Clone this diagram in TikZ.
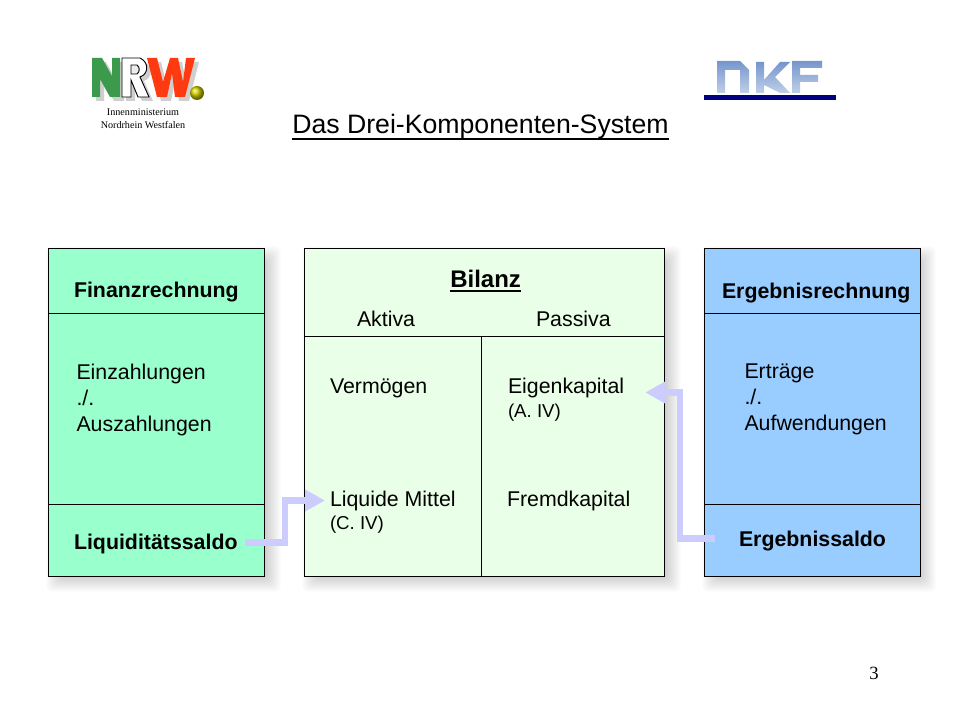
\documentclass[tikz,border=0pt]{standalone}
\usepackage{fontspec}
\setmainfont{Liberation Sans}
\newfontfamily\timesf{Liberation Serif}
\usetikzlibrary{arrows.meta,calc}
\definecolor{boxgreen}{HTML}{99FFCC}
\definecolor{boxpale}{HTML}{EAFFE8}
\definecolor{boxblue}{HTML}{99CCFF}
\definecolor{flowcol}{HTML}{CCCCFF}
\definecolor{nrwgreen}{HTML}{3C9A4C}
\definecolor{nrwred}{HTML}{FF3A10}
\definecolor{nrwgray}{HTML}{CFCFCF}
\definecolor{dkfbar}{HTML}{000080}
\definecolor{dkftop}{HTML}{7596CC}
\definecolor{dkfbot}{HTML}{C0CFE8}
\tikzset{
  panel/.style={draw=black,line width=0.6pt,anchor=north west,inner sep=0,outer sep=0},
  rule/.style={draw=black,line width=0.6pt},
  lab/.style={inner sep=0,outer sep=0,anchor=base west,font=\fontsize{16}{19.5}\selectfont},
  block/.style={inner sep=0,outer sep=0,anchor=north west,align=left,font=\fontsize{16}{19.5}\selectfont},
  head/.style={inner sep=0,outer sep=0,anchor=base west,font=\fontsize{16}{19.5}\selectfont\bfseries},
  small/.style={inner sep=0,outer sep=0,anchor=base west,font=\fontsize{14}{16}\selectfont},
  flow/.style={draw=flowcol,line width=4.8pt,miter limit=10,-{Triangle[length=15pt,width=15.5pt]}},
  dkf/.style={draw=none,top color=dkftop,bottom color=dkfbot},
  ministry/.style={inner sep=0,font=\timesf\fontsize{7.6}{9}\selectfont,text=black},
  ulin/.style={draw=black,line width=1.1pt}
}
\newcommand{\softshadow}[4]{%
  \foreach \s in {9,8,...,-9}{%
    \fill[black,opacity=0.013,rounded corners=4pt]
      ({#1+7-\s},{#2+7-\s}) rectangle ({#3+7+\s},{#4+7+\s});
  }%
}
\newcommand{\nshape}{(92,58)--(102,58)--(112,76)--(112,58)--(120,58)--(120,97)--(110,97)--(100,79)--(100,97)--(92,97)--cycle}
\newcommand{\rshape}{(122,58)--(140,58) .. controls (149,62) and (149,74) .. (140,77)--(149,97)--(138,97)--(131,80)--(131,97)--(122,97)--cycle}
\newcommand{\rhole}{(131,65)--(137,65) .. controls (140,67) and (140,72) .. (137,74)--(131,74)--cycle}
\newcommand{\wshape}{(147,58)--(157,58)--(163,82)--(170,58)--(178,58)--(183,82)--(186,58)--(195,58)--(185,97)--(175,97)--(172,73)--(167,97)--(157,97)--cycle}
\begin{document}
\begin{tikzpicture}[x=0.75pt,y=-0.75pt]
\useasboundingbox (0,0) rectangle (960,720);
\fill[white] (0,0) rectangle (960,720);

% NRW logo
\begin{scope}[shift={(4,4)}]
  \fill[nrwgray] \nshape;
  \fill[nrwgray] \rshape;
  \fill[nrwgray] \wshape;
\end{scope}
\fill[nrwgreen] \nshape;
\draw[black,line width=0.7pt,fill=white] \rshape;
\draw[black,line width=0.7pt,fill=nrwgray!40] \rhole;
\fill[nrwred] \wshape;
\shade[ball color=yellow!60!olive] (197,93) circle (5.25pt);
\node[ministry] (minone) at (143,112) {Innenministerium};
\node[ministry] (mintwo) at (143,125) {Nordrhein Westfalen};

% DKF logo
\shade[dkf] (717,61)--(740,61)--(749,70)--(749,93)--(740,93)--(740,70)--(725,70)--(725,93)--(717,93)--cycle;
\shade[dkf] (756,62)--(764,62)--(764,80)--(780,62)--(790,62)--(775,77)--(790,93)--(780,93)--(764,85)--(764,93)--(756,93)--cycle;
\shade[dkf] (792,61)--(822,61)--(822,68)--(800,68)--(800,75)--(818,75)--(818,82)--(800,82)--(800,93)--(792,93)--cycle;
\fill[dkfbar] (704,95) rectangle (836,100);

% Title
\node[inner sep=0,anchor=base west,font=\fontsize{20}{24}\selectfont] (title) at (292,134) {Das Drei-Komponenten-System};
\draw[ulin] ([yshift=-3.6pt]title.base west) -- ([yshift=-3.6pt]title.base east);

% Shadows
\softshadow{48}{248}{265}{576}
\softshadow{304}{248}{665}{576}
\softshadow{704}{248}{920}{576}

% Panels
\node[panel,fill=boxgreen,minimum width=162.25pt,minimum height=246pt] (fin) at (48,248) {};
\node[panel,fill=boxpale,minimum width=270.5pt,minimum height=246pt] (bil) at (304,248) {};
\node[panel,fill=boxblue,minimum width=162pt,minimum height=246pt] (erg) at (704,248) {};

% Dividers
\coordinate (fina) at ($(fin.north west)+(0,65)$);
\coordinate (finb) at ($(fin.north west)+(0,256)$);
\draw[rule] (fina) -- (fina -| fin.east);
\draw[rule] (finb) -- (finb -| fin.east);
\coordinate (erga) at ($(erg.north west)+(0,65)$);
\coordinate (ergb) at ($(erg.north west)+(0,256)$);
\draw[rule] (erga) -- (erga -| erg.east);
\draw[rule] (ergb) -- (ergb -| erg.east);
\coordinate (bila) at ($(bil.north west)+(0,88)$);
\coordinate (bilc) at (481,336);
\draw[rule] (bila) -- (bila -| bil.east);
\draw[rule] (bilc) -- (bilc |- bil.south);

% Left panel text
\node[head] (finh) at (74,297) {Finanzrechnung};
\node[block] (finb1) at (76.5,364) {Einzahlungen\\./.\\Auszahlungen};
\node[head] (liqs) at (74,549) {Liquiditätssaldo};

% Centre panel text
\node[inner sep=0,anchor=base west,font=\fontsize{18}{22}\selectfont\bfseries] (bilh) at (450,287.5) {Bilanz};
\draw[ulin] ([yshift=-2.6pt]bilh.base west) -- ([yshift=-2.6pt]bilh.base east);
\node[lab] (akt) at (357,326) {Aktiva};
\node[lab] (pas) at (536,326) {Passiva};
\node[lab] (verm) at (330,393) {Vermögen};
\node[lab] (eigk) at (508,393) {Eigenkapital};
\node[small] (aiv) at (508,417) {(A. IV)};
\node[lab] (liqm) at (330,506) {Liquide Mittel};
\node[lab] (fremd) at (507,506) {Fremdkapital};
\node[small] (civ) at (330,529) {(C. IV)};

% Right panel text
\node[head] (ergh) at (722,298) {Ergebnisrechnung};
\node[block] (ergb1) at (744.5,364) {Erträge\\./.\\Aufwendungen};
\node[head] (ergs) at (739,546) {Ergebnissaldo};

% Page number
\node[inner sep=0,anchor=base west,font=\timesf\fontsize{14}{16}\selectfont] (pg) at (869,679) {3};

% Flow connectors
\coordinate (lbend) at (285,0);
\draw[flow] ([xshift=5.25pt,yshift=0.75pt]liqs.east) -| (lbend |- liqm.west) -- ([xshift=-3.75pt]liqm.west);
\coordinate (rbend) at (680,0);
\coordinate (rtip) at ([xshift=15.75pt,yshift=-3.75pt]eigk.east);
\draw[flow] ([xshift=-18pt,yshift=1.5pt]ergs.west) -| (rbend |- rtip) -- (rtip);
\end{tikzpicture}
\end{document}
